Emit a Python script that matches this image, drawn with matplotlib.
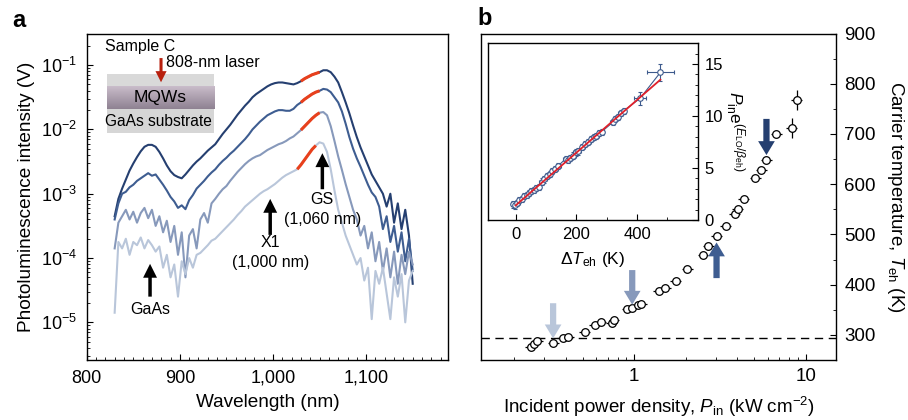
import numpy as np
import matplotlib
matplotlib.use("Agg")
import matplotlib.pyplot as plt
from matplotlib.ticker import MultipleLocator, LogLocator, NullFormatter, FuncFormatter
from matplotlib.patches import Rectangle

plt.rcParams['font.family'] = ['Liberation Sans', 'DejaVu Sans']
plt.rcParams['mathtext.fontset'] = 'custom'
plt.rcParams['mathtext.rm'] = 'Liberation Sans'
plt.rcParams['mathtext.it'] = 'Liberation Sans:italic'
plt.rcParams['mathtext.bf'] = 'Liberation Sans:bold'
plt.rcParams['axes.linewidth'] = 1.0

# ---- panel a: PL spectra (log10 of intensity, read every 4 nm) ----
wl = np.arange(830, 1151, 4)
pl_log_1 = [-3.35, -3.08, -2.92, -2.78, -2.64, -2.53, -2.43, -2.34, -2.27, -2.24,
            -2.24, -2.27, -2.35, -2.45, -2.56, -2.65, -2.71, -2.74, -2.76, -2.70,
            -2.63, -2.56, -2.50, -2.45, -2.39, -2.33, -2.28, -2.23, -2.15, -2.07,
            -2.00, -1.93, -1.85, -1.77, -1.70, -1.63, -1.57, -1.50, -1.45, -1.41,
            -1.37, -1.33, -1.30, -1.28, -1.27, -1.27, -1.28, -1.29, -1.30, -1.28,
            -1.25, -1.21, -1.18, -1.15, -1.13, -1.11, -1.08, -1.08, -1.11, -1.18,
            -1.27, -1.42, -1.58, -1.75, -1.94, -2.12, -2.28, -2.42, -2.56, -2.70,
            -2.80, -2.90, -3.00, -3.20, -3.00, -3.45, -3.15, -3.55, -3.25, -3.65,
            -4.40]
pl_log_2 = [-3.40, -3.15, -3.00, -2.97, -2.90, -2.86, -2.80, -2.76, -2.72, -2.68,
            -2.72, -2.70, -2.78, -2.86, -2.95, -3.05, -3.12, -3.22, -3.18, -3.24,
            -3.10, -3.02, -2.92, -2.86, -2.80, -2.73, -2.67, -2.62, -2.55, -2.49,
            -2.44, -2.38, -2.33, -2.27, -2.21, -2.15, -2.08, -2.00, -1.94, -1.88,
            -1.83, -1.78, -1.75, -1.72, -1.70, -1.70, -1.71, -1.71, -1.68, -1.62,
            -1.58, -1.53, -1.49, -1.45, -1.42, -1.40, -1.37, -1.38, -1.42, -1.50,
            -1.58, -1.72, -1.91, -2.12, -2.30, -2.45, -2.58, -2.72, -2.86, -2.98,
            -3.05, -3.20, -3.55, -3.35, -3.75, -3.50, -3.90, -3.60, -4.05, -3.70,
            -4.20]
pl_log_3 = [-3.85, -3.45, -3.35, -3.25, -3.40, -3.28, -3.45, -3.30, -3.22, -3.38,
            -3.25, -3.50, -3.35, -3.60, -3.42, -3.75, -3.50, -3.95, -3.60, -4.30,
            -3.65, -3.55, -3.85, -3.40, -3.30, -3.45, -3.15, -3.08, -3.00, -2.93,
            -2.88, -2.80, -2.73, -2.66, -2.60, -2.54, -2.49, -2.45, -2.42, -2.40,
            -2.36, -2.32, -2.29, -2.26, -2.23, -2.21, -2.18, -2.14, -2.11, -2.06,
            -2.01, -1.95, -1.89, -1.83, -1.78, -1.74, -1.73, -1.78, -1.95, -2.18,
            -2.42, -2.63, -2.85, -3.05, -3.25, -3.40, -3.65, -3.50, -3.85, -3.60,
            -4.05, -3.75, -4.20, -3.85, -4.30, -3.90, -4.40, -3.95, -4.25, -3.90,
            -4.10]
pl_log_4 = [-4.85, -3.75, -3.85, -3.70, -3.95, -3.75, -3.80, -3.68, -3.85, -3.72,
            -3.80, -3.90, -3.82, -4.15, -3.95, -4.30, -4.10, -4.60, -4.05, -4.25,
            -4.00, -4.15, -3.95, -3.92, -3.86, -3.80, -3.73, -3.70, -3.64, -3.58,
            -3.52, -3.46, -3.40, -3.33, -3.27, -3.20, -3.15, -3.10, -3.05, -3.00,
            -2.96, -2.93, -2.89, -2.85, -2.80, -2.75, -2.71, -2.68, -2.65, -2.62,
            -2.55, -2.47, -2.39, -2.31, -2.25, -2.20, -2.22, -2.35, -2.62, -2.95,
            -3.25, -3.45, -3.65, -3.80, -3.95, -4.10, -4.00, -4.35, -4.15, -4.95,
            -4.20, -4.40, -4.15, -4.55, -4.95, -4.30, -4.60, -4.25, -5.00, -4.35,
            -4.20]
spectra = [pl_log_1, pl_log_2, pl_log_3, pl_log_4]
spec_colors = ['#253f70', '#3e5d91', '#8799bb', '#b9c6da']
fit_windows = [(1030, 1050), (1030, 1050), (1030, 1050), (1026, 1046)]

# ---- panel b: carrier temperature vs power ----
p_in = [0.25, 0.261, 0.273, 0.337, 0.383, 0.413, 0.516, 0.59, 0.637, 0.738, 0.762,
        0.91, 0.973, 1.055, 1.10, 1.39, 1.52, 1.75, 2.04, 2.52, 2.70, 3.02, 3.42,
        3.85, 4.02, 4.35, 5.07, 5.52, 5.90, 6.75, 8.26, 8.83]
t_eh = [275, 282, 287, 283, 293, 295, 306, 319, 326, 323, 330, 351, 353, 360, 361,
        387, 393, 408, 432, 459, 476, 497, 517, 541, 550, 570, 612, 629, 649, 699,
        712, 767]
t_err = [0] * 30 + [20, 20]
p_rel_err = 0.075
t_room = 293

# arrows marking the spectra in panel a: (P, T tail, T tip)
mark_p = [0.337, 0.974, 3.02, 5.9]
mark_tail = [363, 429, 413, 730]
mark_tip = [293, 360, 484, 658]

# ---- inset: linearised power vs temperature rise ----
dT = [-8, -2, 5, 12, 20, 28, 36, 44, 52, 60, 68, 76, 86, 95, 104, 112, 120, 130, 140,
      165, 172, 180, 190, 198, 206, 220, 230, 240, 250, 258, 266, 276, 284,
      320, 328, 336, 346, 356, 410, 477]
p_lin = [1.5, 1.4, 1.6, 1.9, 2.0, 2.3, 2.4, 2.6, 2.8, 2.9, 3.1, 3.2, 3.7, 3.9, 4.2, 4.4,
         4.7, 4.9, 5.2, 5.9, 5.8, 6.0, 6.2, 6.5, 6.6, 7.0, 7.3, 7.5, 7.8, 8.0, 8.1, 8.4,
         8.5, 9.4, 9.7, 9.9, 10.3, 10.5, 11.7, 14.2]
dT_err = [8] * 38 + [20, 45]
p_lin_err = [0.3] * 38 + [0.6, 0.85]
fit_dT = [0, 477]
fit_p = [1.4, 13.5]

fig = plt.figure(figsize=(9.08, 4.2), dpi=100)

# ================= panel a =================
ax = fig.add_axes([0.0955, 0.1429, 0.398, 0.7773])
for logs, c, (f0, f1) in zip(spectra, spec_colors, fit_windows):
    y = 10 ** np.array(logs)
    ax.plot(wl, y, color=c, lw=1.5, zorder=2)
    m = (wl >= f0) & (wl <= f1)
    ax.plot(wl[m], y[m], color='#e8401c', lw=2.2, zorder=3, solid_capstyle='butt')

ax.set_yscale('log')
ax.set_xlim(800, 1188)
ax.set_ylim(2.6e-6, 0.31)
ax.xaxis.set_major_locator(MultipleLocator(100))
ax.xaxis.set_minor_locator(MultipleLocator(10))
ax.xaxis.set_major_formatter(FuncFormatter(lambda v, p: '{:,.0f}'.format(v)))
ax.yaxis.set_major_locator(LogLocator(base=10, numticks=10))
ax.yaxis.set_minor_locator(LogLocator(base=10, subs=np.arange(2, 10), numticks=20))
ax.yaxis.set_minor_formatter(NullFormatter())
ax.tick_params(which='both', direction='in', top=False, right=False, labelsize=13)
ax.tick_params(which='major', length=4.5, pad=7)
ax.tick_params(which='minor', length=2.5)
ax.set_xlabel('Wavelength (nm)', fontsize=13.7, labelpad=5)
ax.set_ylabel('Photoluminescence intensity (V)', fontsize=13.7, labelpad=4)

arr_k = dict(facecolor='black', edgecolor='none', width=2.5, headwidth=10, headlength=10, shrink=0)
ax.annotate('', xy=(868, 10 ** -4.09), xytext=(868, 10 ** -4.6), arrowprops=arr_k)
ax.text(868, 10 ** -4.8, 'GaAs', ha='center', va='center', fontsize=11.5)
ax.annotate('', xy=(997, 10 ** -3.08), xytext=(997, 10 ** -3.64), arrowprops=arr_k)
ax.text(997, 10 ** -3.76, 'X1', ha='center', va='center', fontsize=11.5)
ax.text(997, 10 ** -4.07, '(1,000 nm)', ha='center', va='center', fontsize=11.5)
ax.annotate('', xy=(1053, 10 ** -2.37), xytext=(1053, 10 ** -2.93), arrowprops=arr_k)
ax.text(1053, 10 ** -3.09, 'GS', ha='center', va='center', fontsize=11.5)
ax.text(1053, 10 ** -3.40, '(1,060 nm)', ha='center', va='center', fontsize=11.5)

ax.text(0.051, 0.959, 'Sample C', transform=ax.transAxes, ha='left', va='center', fontsize=11.5)
ax.text(0.219, 0.912, '808-nm laser', transform=ax.transAxes, ha='left', va='center', fontsize=11.5)

# sample schematic
sx = fig.add_axes([0.1178, 0.6833, 0.1179, 0.1405])
sx.set_xlim(0, 1)
sx.set_ylim(0, 1)
sx.axis('off')
sx.add_patch(Rectangle((0, 0), 1, 0.41, color='#d6d6d6', lw=0))
sx.add_patch(Rectangle((0, 0.79), 1, 0.21, color='#d9d9d9', lw=0))
grad = np.linspace(0, 1, 50).reshape(-1, 1)
sx.imshow(grad, extent=(0, 1, 0.41, 0.79), aspect='auto', origin='upper',
          cmap=matplotlib.colors.LinearSegmentedColormap.from_list('mq', ['#c9bcca', '#8f8292']))
sx.text(0.5, 0.6, 'MQWs', ha='center', va='center', fontsize=12.5)
sx.text(0.48, 0.19, 'GaAs substrate', ha='center', va='center', fontsize=11.2)
sx.annotate('', xy=(0.505, 0.86), xytext=(0.505, 1.27), annotation_clip=False,
            arrowprops=dict(facecolor='#b8200e', edgecolor='none', width=2.2, headwidth=8,
                            headlength=8, shrink=0))

fig.text(0.013, 0.952, 'a', fontsize=17, fontweight='bold', va='center')

# ================= panel b =================
bx = fig.add_axes([0.5297, 0.1429, 0.391, 0.7773])
p_arr = np.array(p_in)
xerr = [p_arr - p_arr / (1 + p_rel_err), p_arr * p_rel_err]
bx.errorbar(p_in, t_eh, xerr=xerr, yerr=t_err, fmt='o', ms=5.5, mfc='white', mec='black',
            mew=0.9, ecolor='black', elinewidth=0.9, capsize=0, zorder=3)
bx.axhline(t_room, color='black', lw=1.0, ls=(0, (6, 4)), zorder=1)
bx.set_xscale('log')
bx.set_xlim(0.128, 15)
bx.set_ylim(250, 900)
bx.set_xticks([1, 10])
bx.set_xticklabels(['1', '10'])
bx.xaxis.set_minor_locator(LogLocator(base=10, subs=np.arange(2, 10), numticks=20))
bx.xaxis.set_minor_formatter(NullFormatter())
bx.yaxis.tick_right()
bx.yaxis.set_label_position('right')
bx.set_yticks(range(300, 901, 100))
bx.yaxis.set_minor_locator(MultipleLocator(50))
bx.tick_params(which='both', direction='in', top=False, left=False, labelsize=13.5)
bx.tick_params(which='major', length=4.5, pad=6)
bx.tick_params(which='minor', length=2.5)
bx.set_xlabel(r'Incident power density, $P_{\mathrm{in}}$ (kW cm$^{-2}$)', fontsize=13.5, labelpad=7)
bx.set_ylabel(r'Carrier temperature, $T_{\mathrm{eh}}$ (K)', fontsize=13.5, rotation=270, labelpad=22)

for p, t0, t1, c in zip(mark_p, mark_tail, mark_tip, spec_colors[::-1]):
    bx.annotate('', xy=(p, t1), xytext=(p, t0),
                arrowprops=dict(facecolor=c, edgecolor='none', width=4.5, headwidth=12,
                                headlength=10, shrink=0), zorder=4)

fig.text(0.526, 0.955, 'b', fontsize=17, fontweight='bold', va='center')

# ================= inset =================
ix = fig.add_axes([0.5378, 0.4762, 0.2306, 0.4207])
ix.errorbar(dT, p_lin, xerr=dT_err, yerr=p_lin_err, fmt='-o', color='#3d5a8c', ms=4,
            mfc='white', mec='#3d5a8c', mew=0.8, lw=0.8, elinewidth=0.8, capsize=1.5, zorder=2)
ix.plot(fit_dT, fit_p, color='#e0202a', lw=1.3, zorder=3)
ix.set_xlim(-90, 600)
ix.set_ylim(0, 17)
ix.set_xticks([0, 200, 400])
ix.xaxis.set_minor_locator(MultipleLocator(100))
ix.yaxis.set_major_locator(MultipleLocator(5))
ix.yaxis.set_minor_locator(MultipleLocator(1))
ix.yaxis.tick_right()
ix.yaxis.set_label_position('right')
ix.tick_params(which='both', direction='in', top=False, left=False, labelsize=12)
ix.tick_params(which='major', length=4, pad=5)
ix.tick_params(which='minor', length=2.5)
ix.set_xlabel(r'$\Delta T_{\mathrm{eh}}$ (K)', fontsize=12.5, labelpad=6)
ix.set_ylabel(r'$P_{\mathrm{in}}\mathrm{e}^{(E_{\mathrm{LO}}/\beta_{\mathrm{eh}})}$', fontsize=12.5,
              rotation=270, labelpad=17)

fig.savefig('out.png', dpi=100)
